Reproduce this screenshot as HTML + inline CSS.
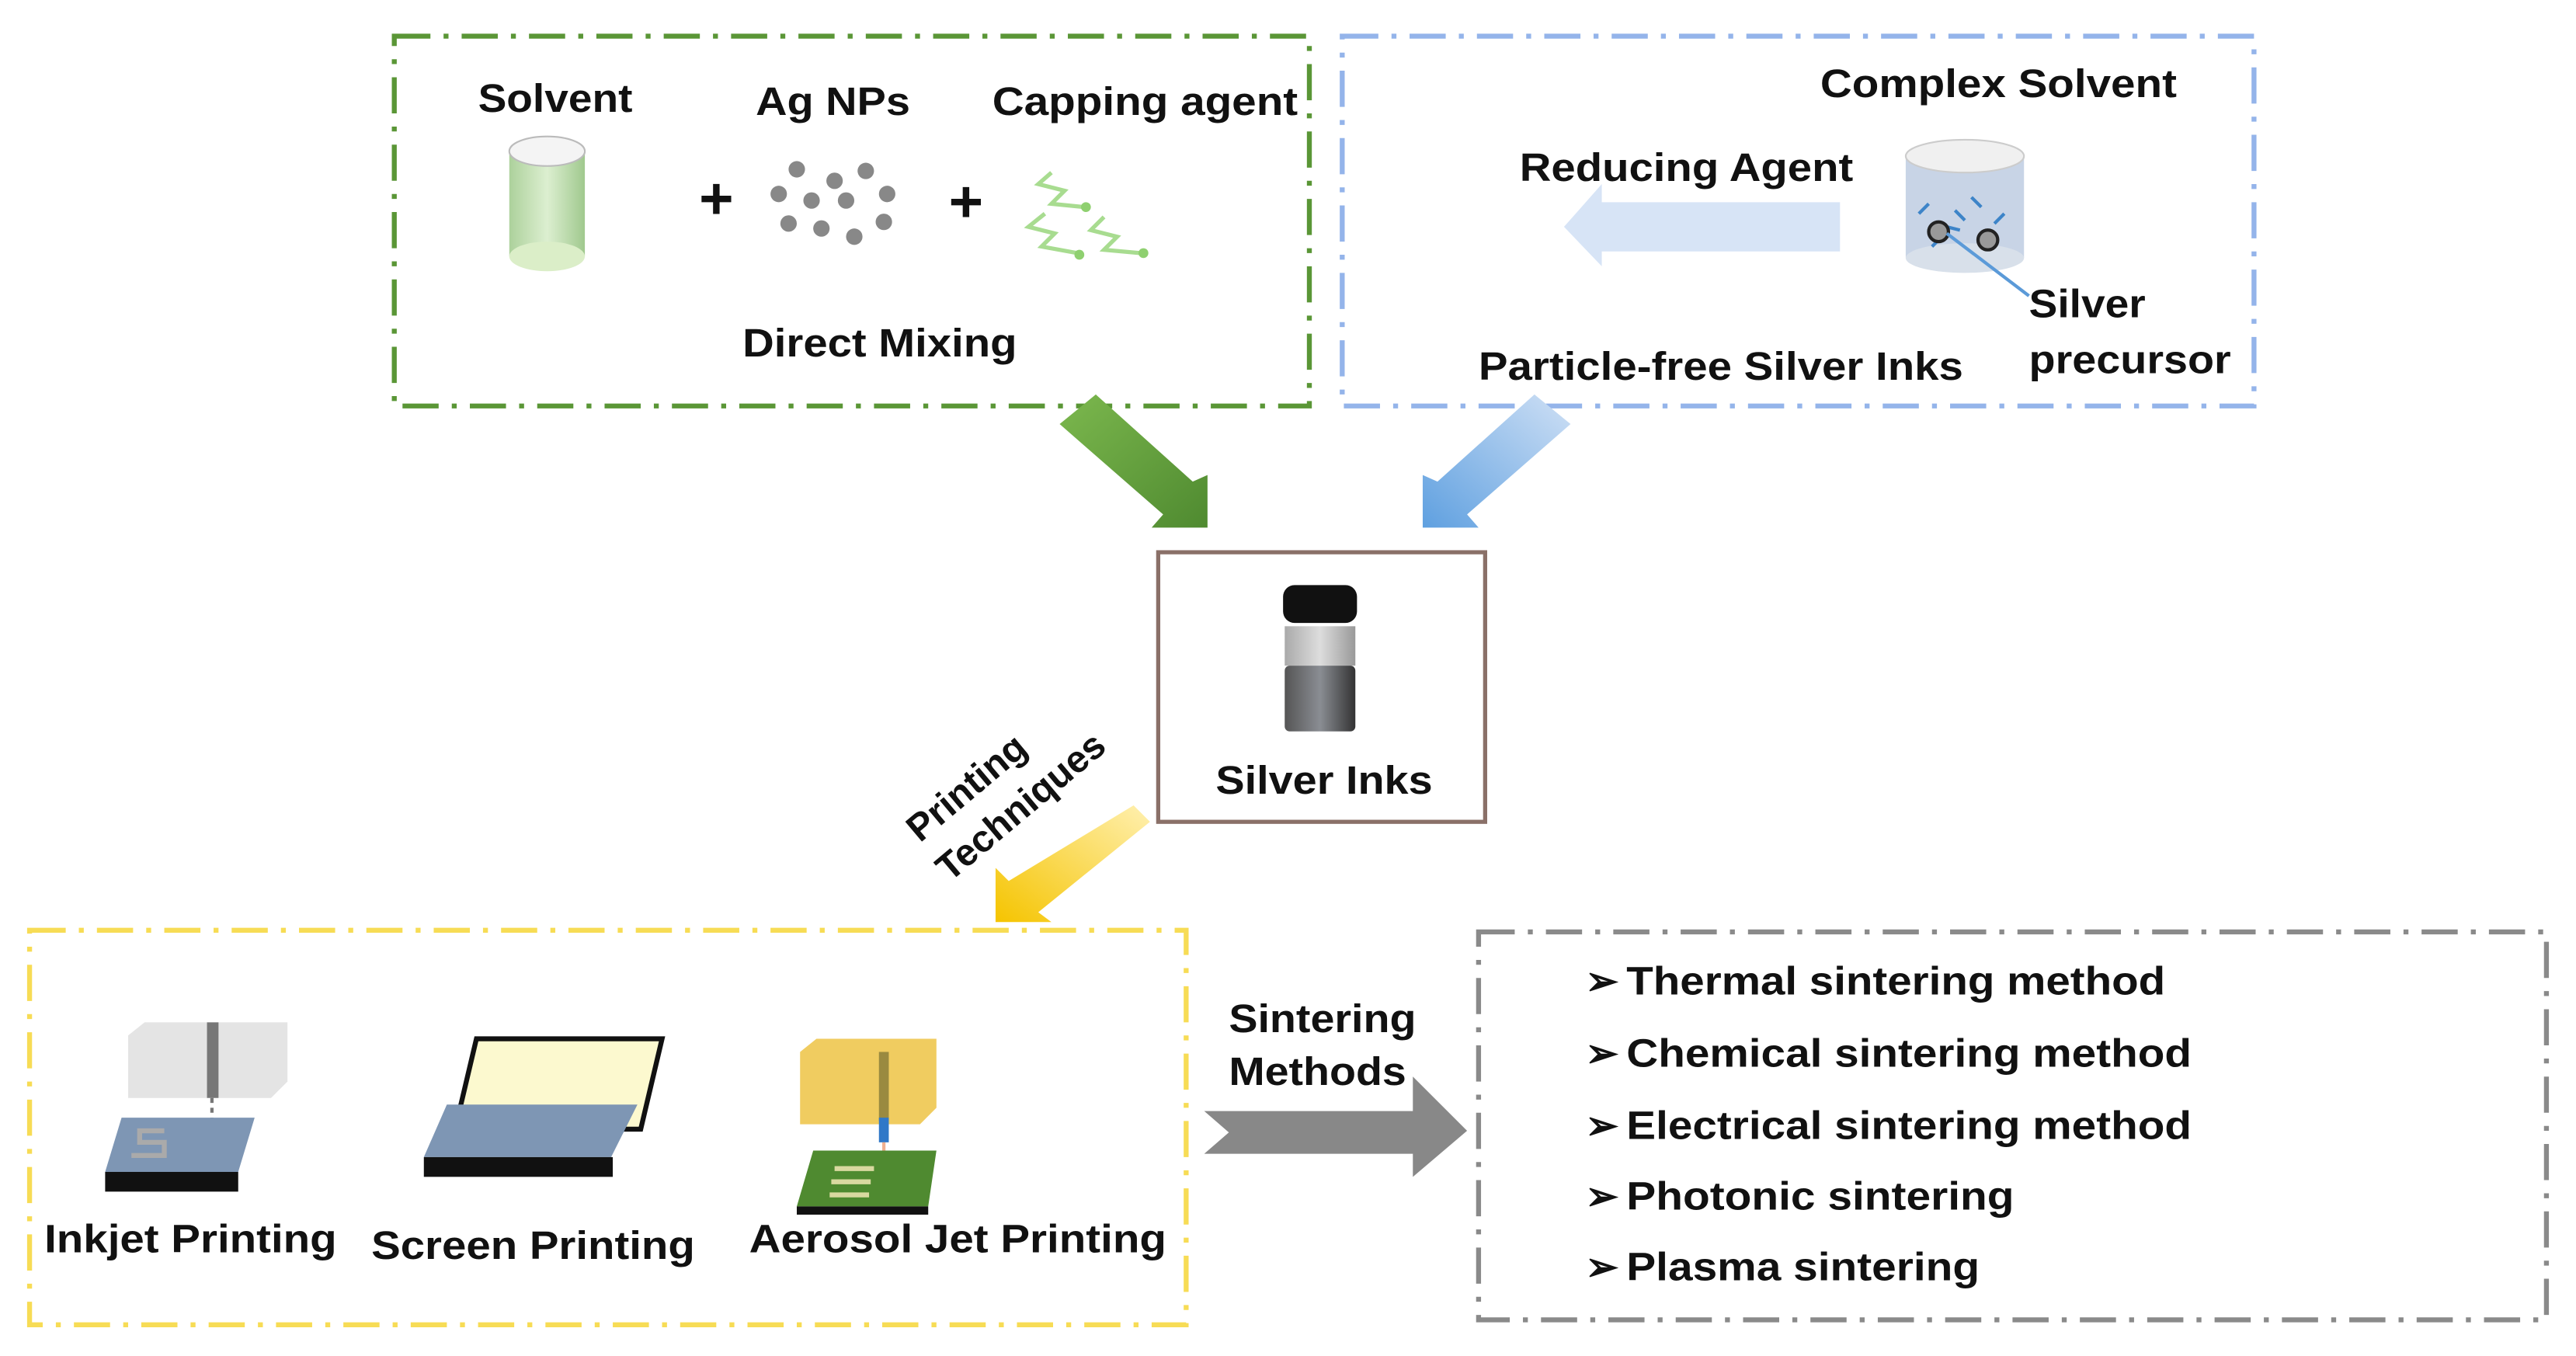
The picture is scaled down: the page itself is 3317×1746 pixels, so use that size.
<!DOCTYPE html>
<html><head><meta charset="utf-8"><style>
html,body{margin:0;padding:0;background:#fff;}
svg{display:block;}
text{font-family:"Liberation Sans",Arial,sans-serif;font-weight:bold;fill:#111;}
</style></head><body>
<svg width="3317" height="1746" viewBox="0 0 1568 825" preserveAspectRatio="none" xmlns="http://www.w3.org/2000/svg">
<defs>
<linearGradient id="gb" x1="0" x2="1"><stop offset="0" stop-color="#9ec98a"/><stop offset=".5" stop-color="#d6ecc8"/><stop offset="1" stop-color="#8fbf7a"/></linearGradient>
<linearGradient id="bot" x1="0" x2="1"><stop offset="0" stop-color="#555"/><stop offset=".5" stop-color="#8a8d93"/><stop offset="1" stop-color="#333"/></linearGradient>
<linearGradient id="bl" x1="0" x2="1"><stop offset="0" stop-color="#aaa"/><stop offset=".5" stop-color="#ddd"/><stop offset="1" stop-color="#999"/></linearGradient>
<linearGradient id="ga" x1="0" y1="0" x2="1" y2="1"><stop offset="0" stop-color="#7cb84e"/><stop offset="1" stop-color="#4f8a30"/></linearGradient>
<linearGradient id="ba" x1="1" y1="0" x2="0" y2="1"><stop offset="0" stop-color="#cfe0f5"/><stop offset="1" stop-color="#5fa0e0"/></linearGradient>
<linearGradient id="ya" x1="1" y1="0" x2="0" y2="1"><stop offset="0" stop-color="#fff0b0"/><stop offset="1" stop-color="#f5c400"/></linearGradient>
</defs>

<rect x="240" y="22" width="557" height="225" fill="none" stroke="#5a9636" stroke-width="3" stroke-dasharray="22 8 3 8"/>
<rect x="817" y="22" width="555" height="225" fill="none" stroke="#94b4ea" stroke-width="3" stroke-dasharray="22 8 3 8"/>
<rect x="18" y="566" width="704" height="240" fill="none" stroke="#f7dc55" stroke-width="3" stroke-dasharray="22 8 3 8"/>
<rect x="900" y="567" width="650" height="236" fill="none" stroke="#8a8a8a" stroke-width="3" stroke-dasharray="22 8 3 8"/>
<rect x="705" y="336" width="199" height="164" fill="none" stroke="#8a7068" stroke-width="2.5"/>

<g font-size="24" lengthAdjust="spacingAndGlyphs">
<text x="291" y="68" textLength="94" lengthAdjust="spacingAndGlyphs">Solvent</text>
<text x="460" y="70" textLength="94" lengthAdjust="spacingAndGlyphs">Ag NPs</text>
<text x="604" y="70" textLength="186" lengthAdjust="spacingAndGlyphs">Capping agent</text>
<text x="452" y="217" textLength="167" lengthAdjust="spacingAndGlyphs">Direct Mixing</text>
<text x="1108" y="59" textLength="217" lengthAdjust="spacingAndGlyphs">Complex Solvent</text>
<text x="925" y="110" textLength="203" lengthAdjust="spacingAndGlyphs">Reducing Agent</text>
<text x="1235" y="193" textLength="71" lengthAdjust="spacingAndGlyphs">Silver</text>
<text x="1235" y="227" textLength="123" lengthAdjust="spacingAndGlyphs">precursor</text>
<text x="900" y="231" textLength="295" lengthAdjust="spacingAndGlyphs">Particle-free Silver Inks</text>
<text x="740" y="483" textLength="132" lengthAdjust="spacingAndGlyphs">Silver Inks</text>
<text x="27" y="762" textLength="178" lengthAdjust="spacingAndGlyphs">Inkjet Printing</text>
<text x="226" y="766" textLength="197" lengthAdjust="spacingAndGlyphs">Screen Printing</text>
<text x="456" y="762" textLength="254" lengthAdjust="spacingAndGlyphs">Aerosol Jet Printing</text>
<text x="748" y="628" textLength="114" lengthAdjust="spacingAndGlyphs">Sintering</text>
<text x="748" y="660" textLength="108" lengthAdjust="spacingAndGlyphs">Methods</text>
<text x="965" y="605">➢</text><text x="990" y="605" textLength="328" lengthAdjust="spacingAndGlyphs">Thermal sintering method</text>
<text x="965" y="649">➢</text><text x="990" y="649" textLength="344" lengthAdjust="spacingAndGlyphs">Chemical sintering method</text>
<text x="965" y="693">➢</text><text x="990" y="693" textLength="344" lengthAdjust="spacingAndGlyphs">Electrical sintering method</text>
<text x="965" y="736">➢</text><text x="990" y="736" textLength="236" lengthAdjust="spacingAndGlyphs">Photonic sintering</text>
<text x="965" y="779">➢</text><text x="990" y="779" textLength="215" lengthAdjust="spacingAndGlyphs">Plasma sintering</text>
</g>

<!-- green box contents -->
<rect x="310" y="92" width="46" height="64" fill="url(#gb)" opacity=".85"/>
<ellipse cx="333" cy="92" rx="23" ry="9" fill="#f4f4f4" stroke="#bbb"/>
<ellipse cx="333" cy="156" rx="23" ry="9" fill="#dbeec8"/>
<text x="436" y="133" font-size="36" text-anchor="middle">+</text>
<g fill="#888">
<circle cx="485" cy="103" r="5"/><circle cx="508" cy="110" r="5"/><circle cx="527" cy="104" r="5"/>
<circle cx="474" cy="118" r="5"/><circle cx="494" cy="122" r="5"/><circle cx="515" cy="122" r="5"/><circle cx="540" cy="118" r="5"/>
<circle cx="480" cy="136" r="5"/><circle cx="500" cy="139" r="5"/><circle cx="520" cy="144" r="5"/><circle cx="538" cy="135" r="5"/>
</g>
<text x="588" y="135" font-size="36" text-anchor="middle">+</text>
<g stroke="#a8dc90" stroke-width="2.5" fill="none">
<path d="M640 105 L632 112 L648 116 L640 124 L660 126"/>
<path d="M636 130 L626 138 L642 142 L634 150 L656 154"/>
<path d="M672 132 L664 140 L680 144 L672 152 L694 154"/>
</g>
<g fill="#8fd070"><circle cx="661" cy="126" r="3"/><circle cx="657" cy="155" r="3"/><circle cx="696" cy="154" r="3"/></g>

<!-- blue box contents -->
<polygon points="1120,123 975,123 975,112 952,138 975,162 975,153 1120,153" fill="#d7e4f6"/>
<rect x="1160" y="95" width="72" height="62" fill="#c8d4e6"/>
<ellipse cx="1196" cy="95" rx="36" ry="10" fill="#f0f0f0" stroke="#ccc"/>
<ellipse cx="1196" cy="157" rx="36" ry="9" fill="#d8e0ea"/>
<g stroke="#3d84c8" stroke-width="2" fill="none">
<path d="M1168 130 l6 -6 M1190 128 l6 6 M1200 120 l6 6 M1220 130 l-6 6 M1176 150 l6 -6 M1205 150 l6 -6 M1185 138 l8 2"/>
</g>
<circle cx="1180" cy="141" r="6" fill="#999" stroke="#222" stroke-width="2"/>
<circle cx="1210" cy="146" r="6" fill="#999" stroke="#222" stroke-width="2"/>
<line x1="1185" y1="142" x2="1235" y2="180" stroke="#5b9ad8" stroke-width="2"/>

<polygon points="645,258 667,240 726,293 735,289 735,321 701,321 708,313" fill="url(#ga)"/>
<polygon points="956,258 934,240 875,293 866,289 866,321 900,321 893,313" fill="url(#ba)"/>

<rect x="781" y="356" width="45" height="23" rx="7" fill="#111"/>
<rect x="782" y="381" width="43" height="24" fill="url(#bl)"/>
<rect x="782" y="405" width="43" height="40" rx="3" fill="url(#bot)"/>

<text x="0" y="0" font-size="23" transform="translate(560,513) rotate(-40)">Printing</text>
<text x="0" y="0" font-size="23" transform="translate(578,537) rotate(-40)">Techniques</text>
<polygon points="690,490 700,500 632,555 640,561 606,561 606,528 614,536" fill="url(#ya)"/>

<polygon points="78,630 88,622 175,622 175,658 165,668 78,668" fill="#e4e4e4"/>
<rect x="126" y="622" width="7" height="46" fill="#777"/>
<line x1="129" y1="668" x2="129" y2="700" stroke="#777" stroke-width="2" stroke-dasharray="3 3"/>
<polygon points="74,680 155,680 145,713 64,713" fill="#7e96b4"/>
<rect x="64" y="713" width="81" height="12" fill="#111"/>
<path d="M80 703 H100 V695 H85 V688 H100" stroke="#aaa" stroke-width="3" fill="none"/>

<polygon points="290,632 403,632 390,687 277,687" fill="#fcf9cf" stroke="#111" stroke-width="3"/>
<polygon points="272,672 388,672 372,704 258,704" fill="#7e96b4"/>
<rect x="258" y="704" width="115" height="12" fill="#111"/>

<polygon points="487,640 497,632 570,632 570,674 560,684 487,684" fill="#f0cc60"/>
<rect x="535" y="640" width="6" height="42" fill="#9a8a40"/>
<rect x="535" y="680" width="6" height="15" fill="#2f78c8"/>
<line x1="538" y1="695" x2="538" y2="710" stroke="#f0b090" stroke-width="2"/>
<polygon points="495,700 570,700 565,734 485,734" fill="#4f8a30"/>
<rect x="485" y="734" width="80" height="5" fill="#111"/>
<g stroke="#d9d9a0" stroke-width="3"><line x1="508" y1="711" x2="532" y2="711"/><line x1="506" y1="719" x2="530" y2="719"/><line x1="505" y1="727" x2="529" y2="727"/></g>

<polygon points="733,676 860,676 860,655 893,688 860,716 860,702 733,702 748,689" fill="#888"/>
</svg>
</body></html>
